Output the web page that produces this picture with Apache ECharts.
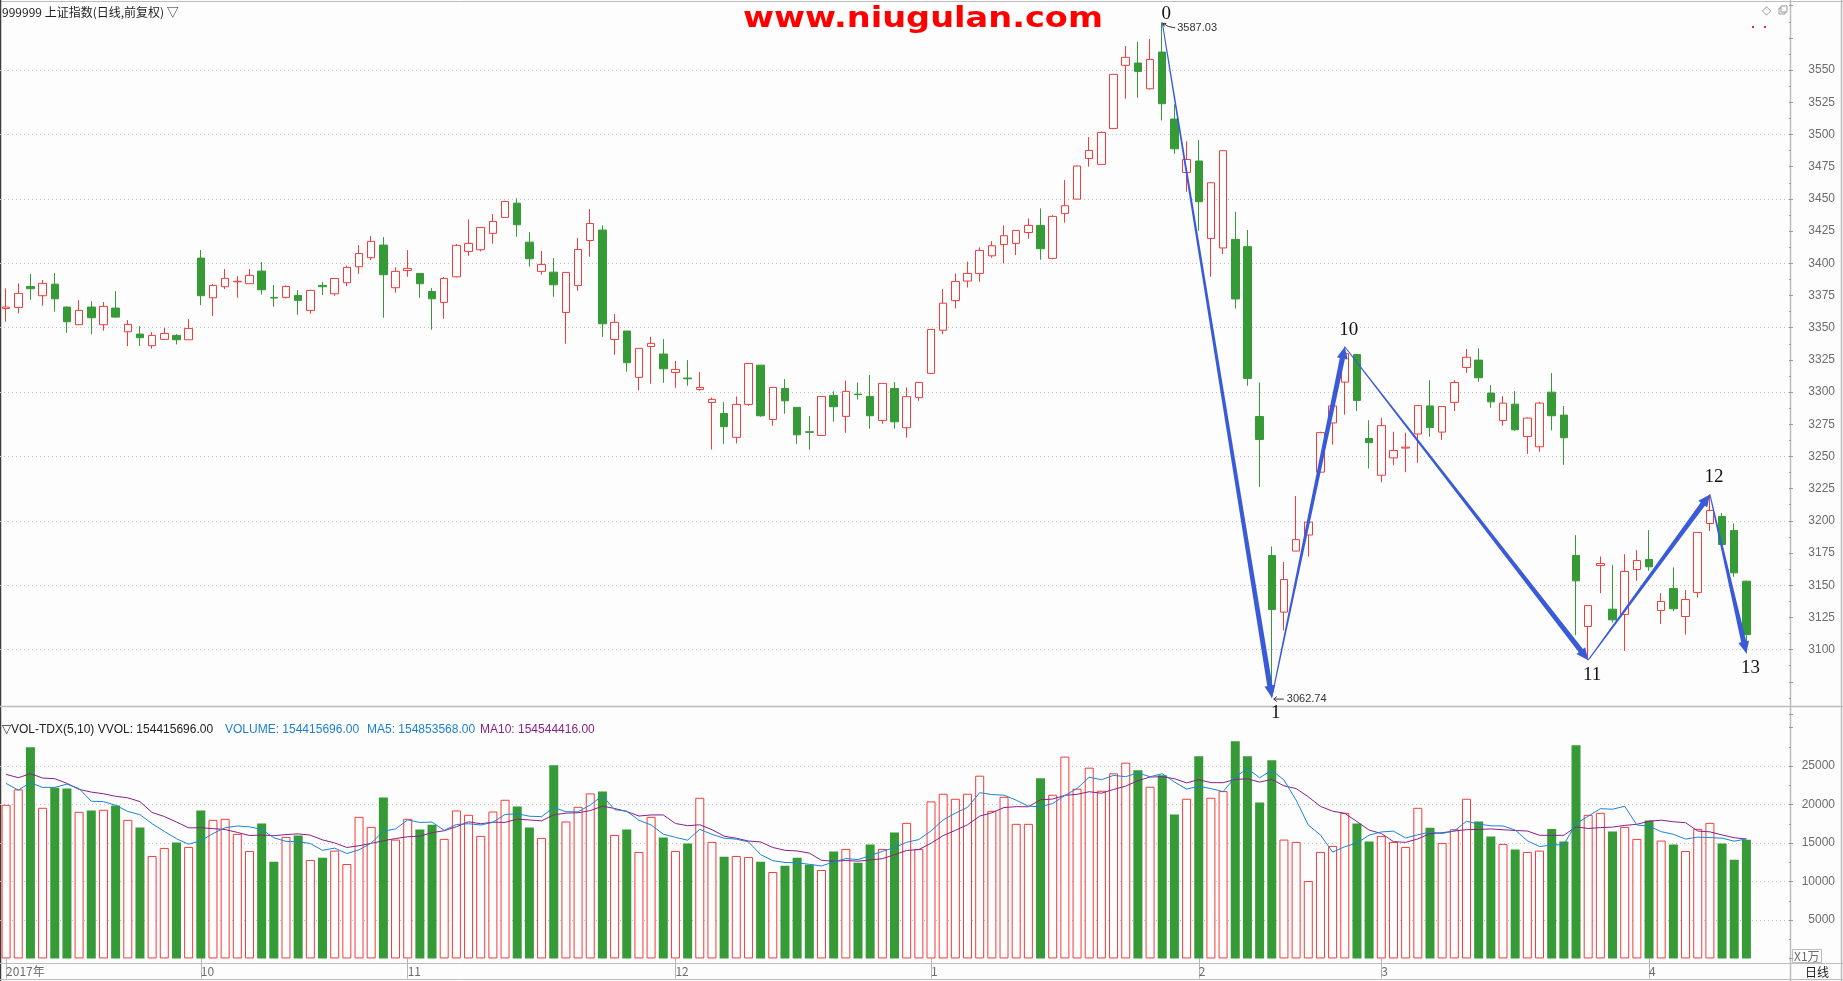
<!DOCTYPE html>
<html><head><meta charset="utf-8">
<script src="https://cdn.jsdelivr.net/npm/echarts@6/dist/echarts.min.js"></script>
<style>html,body{margin:0;padding:0;background:#fdfdfd;overflow:hidden}#c{width:1843px;height:981px}</style>
</head><body><div id="c"></div>
<script>
// ---------------- data ----------------
const dates = ('2017-09-08 2017-09-11 2017-09-12 2017-09-13 2017-09-14 2017-09-15 2017-09-18 2017-09-19 2017-09-20 2017-09-21 2017-09-22 2017-09-25 2017-09-26 2017-09-27 2017-09-28 2017-09-29 ' +
 '2017-10-09 2017-10-10 2017-10-11 2017-10-12 2017-10-13 2017-10-16 2017-10-17 2017-10-18 2017-10-19 2017-10-20 2017-10-23 2017-10-24 2017-10-25 2017-10-26 2017-10-27 2017-10-30 2017-10-31 ' +
 '2017-11-01 2017-11-02 2017-11-03 2017-11-06 2017-11-07 2017-11-08 2017-11-09 2017-11-10 2017-11-13 2017-11-14 2017-11-15 2017-11-16 2017-11-17 2017-11-20 2017-11-21 2017-11-22 2017-11-23 2017-11-24 2017-11-27 2017-11-28 2017-11-29 2017-11-30 ' +
 '2017-12-01 2017-12-04 2017-12-05 2017-12-06 2017-12-07 2017-12-08 2017-12-11 2017-12-12 2017-12-13 2017-12-14 2017-12-15 2017-12-18 2017-12-19 2017-12-20 2017-12-21 2017-12-22 2017-12-25 2017-12-26 2017-12-27 2017-12-28 2017-12-29 ' +
 '2018-01-02 2018-01-03 2018-01-04 2018-01-05 2018-01-08 2018-01-09 2018-01-10 2018-01-11 2018-01-12 2018-01-15 2018-01-16 2018-01-17 2018-01-18 2018-01-19 2018-01-22 2018-01-23 2018-01-24 2018-01-25 2018-01-26 2018-01-29 2018-01-30 2018-01-31 ' +
 '2018-02-01 2018-02-02 2018-02-05 2018-02-06 2018-02-07 2018-02-08 2018-02-09 2018-02-12 2018-02-13 2018-02-14 2018-02-22 2018-02-23 2018-02-26 2018-02-27 2018-02-28 ' +
 '2018-03-01 2018-03-02 2018-03-05 2018-03-06 2018-03-07 2018-03-08 2018-03-09 2018-03-12 2018-03-13 2018-03-14 2018-03-15 2018-03-16 2018-03-19 2018-03-20 2018-03-21 2018-03-22 2018-03-23 2018-03-26 2018-03-27 2018-03-28 2018-03-29 2018-03-30 ' +
 '2018-04-02 2018-04-03 2018-04-04 2018-04-09 2018-04-10 2018-04-11 2018-04-12 2018-04-13 2018-04-16').split(' ');

const opens = [3364.9,3365.7,3382.0,3374.8,3383.8,3366.0,3352.3,3366.0,3352.3,3365.2,
 3346.8,3345.0,3336.0,3340.9,3344.0,3340.6,3404.0,3373.2,3381.8,3385.6,
 3384.1,3393.9,3373.5,3373.5,3375.0,3363.4,3382.8,3376.3,3384.9,3397.3,
 3404.3,3414.1,3381.0,3394.4,3392.1,3378.1,3369.6,3389.5,3409.2,3410.5,
 3423.2,3435.6,3446.7,3416.4,3393.7,3393.1,3361.8,3382.8,3417.7,3425.8,
 3340.8,3347.4,3311.4,3335.4,3329.5,3315.2,3310.9,3302.0,3291.9,3283.4,
 3264.8,3290.4,3320.9,3278.7,3302.8,3288.1,3269.2,3266.3,3297.4,3281.1,
 3298.4,3296.6,3278.0,3302.8,3272.3,3295.8,3314.5,3348.0,3371.0,3386.2,
 3392.1,3405.8,3414.6,3415.4,3423.9,3429.4,3403.8,3438.7,3449.8,3481.4,
 3476.8,3504.7,3553.7,3555.5,3535.5,3564.0,3512.0,3470.5,3479.4,3419.3,
 3411.9,3418.6,3412.9,3281.0,3173.0,3129.1,3176.5,3189.0,3237.8,3276.0,
 3307.7,3329.1,3263.9,3235.4,3248.9,3256.5,3267.4,3289.2,3268.9,3292.0,
 3319.1,3324.8,3299.2,3277.9,3290.6,3265.5,3257.5,3299.9,3282.1,3173.1,
 3117.9,3165.3,3131.4,3127.3,3162.2,3170.0,3130.4,3147.5,3125.7,3144.4,
 3197.9,3203.4,3192.5,3153.1];
const highs = [3380.5,3384.4,3391.6,3387.0,3392.4,3366.5,3371.4,3370.6,3369.9,3378.4,
 3355.9,3351.2,3346.6,3349.7,3345.0,3356.7,3410.3,3383.8,3395.5,3390.0,
 3395.5,3400.9,3383.1,3382.8,3379.2,3379.4,3385.4,3388.5,3398.1,3414.1,
 3421.1,3420.3,3396.8,3410.2,3392.5,3380.7,3389.3,3414.9,3434.1,3428.0,
 3438.2,3448.5,3450.4,3424.2,3409.5,3404.0,3392.9,3419.6,3442.1,3429.4,
 3360.5,3347.4,3333.9,3343.0,3341.1,3324.1,3324.8,3315.5,3295.8,3292.2,
 3296.6,3322.2,3321.0,3303.6,3310.1,3288.1,3281.3,3296.6,3300.5,3309.0,
 3307.5,3313.2,3306.7,3307.7,3303.6,3307.5,3349.0,3380.0,3392.1,3401.2,
 3412.3,3417.2,3429.4,3425.5,3434.8,3442.6,3437.4,3464.6,3476.0,3498.0,
 3502.4,3547.0,3568.7,3571.8,3574.1,3587.03,3523.4,3494.6,3495.7,3463.0,
 3487.4,3440.0,3425.8,3307.4,3180.1,3168.0,3219.3,3203.6,3269.2,3289.2,
 3335.2,3329.5,3278.1,3279.9,3269.2,3268.5,3289.5,3309.2,3288.8,3309.2,
 3333.4,3333.9,3305.4,3296.8,3300.7,3280.3,3292.4,3314.7,3289.1,3188.9,
 3134.2,3172.3,3165.6,3174.1,3177.2,3192.8,3143.8,3163.8,3146.2,3191.0,
 3220.5,3206.0,3197.9,3153.6];
const lows = [3354.6,3361.1,3371.7,3367.0,3362.4,3346.0,3352.0,3345.0,3347.6,3357.7,
 3335.7,3335.7,3333.6,3340.9,3337.0,3340.6,3367.5,3359.0,3380.0,3373.2,
 3384.1,3375.6,3366.2,3372.7,3360.0,3360.8,3375.3,3374.8,3382.3,3391.8,
 3402.5,3357.7,3377.1,3389.5,3373.2,3348.4,3356.9,3389.0,3405.8,3409.2,
 3415.2,3435.6,3420.6,3397.3,3391.1,3374.0,3337.5,3378.6,3405.1,3342.9,
 3328.9,3315.8,3301.5,3306.4,3307.2,3303.3,3304.9,3301.0,3255.4,3259.8,
 3260.1,3289.4,3280.8,3273.8,3283.1,3259.8,3255.2,3266.0,3276.9,3268.4,
 3294.3,3271.5,3275.4,3271.5,3264.5,3293.2,3314.0,3345.0,3365.0,3381.2,
 3385.6,3404.3,3399.9,3406.4,3419.0,3402.7,3403.0,3431.5,3449.8,3475.0,
 3476.8,3504.5,3527.8,3528.5,3535.0,3510.9,3485.0,3455.5,3425.2,3389.5,
 3407.2,3364.8,3304.9,3226.4,3062.74,3114.8,3176.5,3172.2,3237.8,3259.2,
 3282.4,3285.3,3240.7,3230.0,3243.2,3237.8,3245.0,3265.3,3262.8,3285.3,
 3314.9,3308.0,3287.8,3273.8,3269.9,3252.0,3253.6,3270.2,3243.5,3111.2,
 3091.8,3143.8,3121.0,3099.0,3153.4,3161.2,3120.0,3129.9,3111.7,3140.5,
 3192.2,3178.0,3156.5,3097.0];
const closes = [3366.0,3376.6,3380.2,3384.4,3372.4,3354.6,3363.4,3357.7,3366.5,3358.2,
 3352.5,3342.2,3344.0,3345.5,3340.6,3349.4,3374.8,3382.8,3388.3,3386.0,
 3390.6,3379.4,3373.0,3382.0,3371.2,3378.9,3381.8,3388.2,3396.8,3407.6,
 3417.0,3391.1,3393.7,3396.0,3384.1,3372.4,3388.2,3413.9,3415.4,3427.8,
 3432.5,3448.0,3429.9,3403.5,3399.1,3383.3,3392.9,3410.7,3430.9,3353.0,
 3354.1,3322.8,3333.9,3337.8,3318.1,3317.6,3310.3,3303.6,3294.3,3273.1,
 3290.4,3322.2,3281.6,3303.6,3293.2,3266.8,3268.7,3296.6,3288.6,3300.5,
 3298.0,3281.6,3306.7,3276.9,3296.4,3307.5,3348.6,3369.0,3385.9,3392.1,
 3410.0,3413.6,3421.4,3425.5,3429.4,3411.3,3436.4,3444.7,3475.5,3487.6,
 3501.6,3546.7,3559.9,3549.0,3558.3,3523.9,3488.9,3480.6,3447.8,3462.5,
 3487.4,3372.3,3310.6,3263.2,3131.2,3154.4,3185.4,3199.0,3268.5,3289.2,
 3329.8,3293.5,3260.7,3273.9,3254.6,3257.2,3289.5,3272.4,3288.8,3307.4,
 3327.0,3311.1,3292.4,3291.4,3270.7,3279.8,3291.4,3281.6,3264.5,3153.4,
 3134.2,3166.9,3123.1,3160.7,3169.2,3164.3,3137.4,3131.7,3138.9,3191.0,
 3208.0,3181.6,3159.6,3111.7];
// volume, unit: 1万
const volumes = [19977,21977,27455,19586,22194,22107,19064,19238,19325,19890,
 18020,17020,13324,14368,15064,14498,19238,18020,18151,16194,
 13977,17542,12585,15803,15977,12803,13107,14020,12281,18412,
 17107,20933,15455,18151,16759,17368,15542,19238,18673,15933,
 19107,20629,19760,17020,15672,25108,17803,19716,21455,21716,
 16064,16759,13846,18412,15716,13977,14933,20890,15151,13238,
 13324,13194,12585,11237,12063,13107,12194,11498,13890,14238,
 12455,14803,14238,16368,17629,14238,20412,21412,20760,21412,
 23760,19194,21020,17499,17499,23412,21281,26238,22064,24803,
 21803,24064,25455,24455,22325,23803,18716,20760,26282,20890,
 21760,28238,26282,20281,25760,15455,15151,10064,13846,14629,
 18934,17542,15194,15933,15151,14498,19586,16977,15020,16803,
 20760,17803,15846,14890,14151,13846,14020,16846,15194,27716,
 18673,18934,16499,17107,15542,17933,15325,14803,13977,16846,
 17629,14933,12846,15441.57];
// moving-average values before enough bars exist in the window
const ma5Head = [22760,21890,22847,22238];
const ma10Head = [23934,23499,24021,23455,23368,22760,21977,21629,21412];
// zigzag wave points (bar index, 'H' = high, 'L' = low) and their labels
const zigIdx = [95,104,110,130,140,143];
const zigType = ['H','L','H','L','H','L'];
const zigLabels = ['0','1','10','11','12','13'];
const tagIdx = [95,104]; // extreme price tags
// texts
const titleText = '999999 上证指数(日线,前复权) ▽';
const siteText = 'www.niugulan.com';
const volHead1 = '▽VOL-TDX(5,10) VVOL: 154415696.00';
const volHead2 = 'VOLUME: 154415696.00';
const volHead3 = 'MA5: 154853568.00';
const volHead4 = 'MA10: 154544416.00';
const unitText = 'X1万';
const periodText = '日线';

// ---------------- derived ----------------
const BG = '#fdfdfd', RED = '#f23c3c', GREEN = '#369a37', GRIDC = '#c2c2c2', TXT = '#6c6c6c', FRAME = '#bdbdbd';
const LATIN = '"Liberation Sans", Arial, sans-serif';
const CJK = '"Noto Sans CJK SC", "Liberation Sans", sans-serif';
const N = dates.length;
const isUp = closes.map((c, i) => c >= opens[i]);
const candleData = opens.map((o, i) => [o, closes[i], lows[i], highs[i]]);
const volData = volumes.map((v, i) => ({
  value: v,
  itemStyle: isUp[i] ? {color: BG, borderColor: RED, borderWidth: 1} : {color: GREEN, borderColor: GREEN, borderWidth: 0}
}));
function ma(n, head) {
  return volumes.map((v, i) => {
    if (i < n - 1) return head[i];
    let s = 0; for (let k = i - n + 1; k <= i; k++) s += volumes[k];
    return +(s / n).toFixed(1);
  });
}
const ma5 = ma(5, ma5Head), ma10 = ma(10, ma10Head);
const monthStart = dates.map((d, i) => i === 0 || d.slice(5, 7) !== dates[i - 1].slice(5, 7));
const zigPts = zigIdx.map((k, j) => [k, zigType[j] === 'H' ? highs[k] : lows[k]]);
const zigSegs = zigPts.slice(1).map((p, j) => [zigPts[j][0], zigPts[j][1], p[0], p[1]]);

const GRID_W = 1789;
const priceTop = 5.71, priceH = 708.28;      // 3600 .. 3050
const pgTop = 70.1, pgH = 579.5;             // 3550 .. 3100 gridlines
const volTop = 727.7, volH = 230.75;         // 30000 .. 0
const vgTop = 766.2, vgH = 153.8;            // 25000 .. 5000 gridlines

const hiddenX = (gi) => ({type: 'value', gridIndex: gi, min: 0, max: 1, show: false});
const gridY = (gi, min, max, itv) => ({
  type: 'value', gridIndex: gi, min, max, interval: itv, position: 'right',
  axisLine: {show: false}, axisTick: {show: false}, axisLabel: {show: false},
  splitLine: {show: true, lineStyle: {color: GRIDC, width: 1, type: [1, 3]}}
});
const labelY = (gi, min, max, itv, lo, hi) => ({
  type: 'value', gridIndex: gi, min, max, interval: itv, position: 'right',
  axisLine: {show: false},
  axisTick: {show: true, length: 4, lineStyle: {color: '#9a9a9a'}},
  minorTick: {show: true, splitNumber: 2, length: 2, lineStyle: {color: '#9a9a9a'}},
  splitLine: {show: false},
  axisLabel: {show: true, margin: 46, align: 'right', color: TXT, fontSize: 12, fontFamily: LATIN,
    formatter: (v) => (v >= lo && v <= hi) ? String(v) : ''}
});

const option = {
  backgroundColor: BG,
  animation: false,
  grid: [
    {left: 0, top: priceTop, width: GRID_W, height: priceH, outerBoundsMode: 'none'},
    {left: 0, top: pgTop, width: GRID_W, height: pgH, outerBoundsMode: 'none'},
    {left: 0, top: volTop, width: GRID_W, height: volH, outerBoundsMode: 'none'},
    {left: 0, top: vgTop, width: GRID_W, height: vgH, outerBoundsMode: 'none'}
  ],
  xAxis: [
    {type: 'category', gridIndex: 0, data: dates, max: N + 2, boundaryGap: true, show: false},
    hiddenX(1),
    {type: 'category', gridIndex: 2, data: dates, max: N + 2, boundaryGap: true,
      axisLine: {show: false},
      axisTick: {show: true, interval: (i) => !!monthStart[i], alignWithLabel: true, length: 20, lineStyle: {color: '#b4b4b4'}},
      splitLine: {show: false},
      axisLabel: {show: true, interval: (i) => !!monthStart[i], align: 'left', margin: 7, hideOverlap: false,
        color: TXT, fontSize: 12, fontFamily: CJK,
        formatter: (v, i) => i === 0 ? v.slice(0, 4) + '年' : String(+v.slice(5, 7))}},
    hiddenX(3)
  ],
  yAxis: [
    labelY(0, 3050, 3600, 25, 3100, 3550),
    gridY(1, 3100, 3550, 50),
    labelY(2, 0, 30000, 5000, 5000, 25000),
    gridY(3, 5000, 25000, 5000)
  ],
  series: [
    {type: 'candlestick', xAxisIndex: 0, yAxisIndex: 0, data: candleData, barWidth: 8,
      itemStyle: {color: BG, color0: GREEN, borderColor: RED, borderColor0: GREEN, borderWidth: 1}},
    {type: 'bar', xAxisIndex: 2, yAxisIndex: 2, data: volData, barWidth: 9},
    {type: 'line', xAxisIndex: 2, yAxisIndex: 2, data: ma5, symbol: 'none', lineStyle: {color: '#1a84d8', width: 1}, z: 5},
    {type: 'line', xAxisIndex: 2, yAxisIndex: 2, data: ma10, symbol: 'none', lineStyle: {color: '#8a1f8a', width: 1}, z: 4},
    {type: 'custom', xAxisIndex: 0, yAxisIndex: 0, clip: false, silent: true, z: 10,
      data: zigSegs, encode: {x: [0, 2], y: [1, 3]},
      renderItem: (params, api) => {
        const a = api.coord([api.value(0), api.value(1)]);
        const b = api.coord([api.value(2), api.value(3)]);
        const dx = b[0] - a[0], dy = b[1] - a[1], len = Math.hypot(dx, dy);
        const ux = dx / len, uy = dy / len, nx = -uy, ny = ux;
        const L = 12, W = 5.5, w0 = 0.5, w1 = 2.6;
        const s = [b[0] - ux * L, b[1] - uy * L];
        const pts = [
          [a[0] + nx * w0, a[1] + ny * w0], [s[0] + nx * w1, s[1] + ny * w1], [s[0] + nx * W, s[1] + ny * W], b,
          [s[0] - nx * W, s[1] - ny * W], [s[0] - nx * w1, s[1] - ny * w1], [a[0] - nx * w0, a[1] - ny * w0]
        ];
        return {type: 'polygon', shape: {points: pts}, style: {fill: '#3a5bd8'}};
      }},
    {type: 'custom', xAxisIndex: 0, yAxisIndex: 0, clip: false, silent: true, z: 11,
      data: zigPts, encode: {x: 0, y: 1},
      renderItem: (params, api) => {
        const p = api.coord([api.value(0), api.value(1)]);
        const up = zigType[params.dataIndex] === 'H';
        let y = up ? p[1] - 17 : p[1] + 15;
        if (y < 14) y = 14;
        return {type: 'text', x: p[0] + 4, y: y,
          style: {text: zigLabels[params.dataIndex], fill: '#111', font: '19px "Liberation Serif", serif', align: 'center', verticalAlign: 'middle'}};
      }},
    {type: 'custom', xAxisIndex: 0, yAxisIndex: 0, clip: false, silent: true, z: 11,
      data: tagIdx.map((k, j) => [k, j === 0 ? highs[k] : lows[k]]), encode: {x: 0, y: 1},
      renderItem: (params, api) => {
        const p = api.coord([api.value(0), api.value(1)]);
        const hi = params.dataIndex === 0;
        const ly = hi ? p[1] + 5.5 : p[1] + 1.5;
        return {type: 'group', children: [
          {type: 'polyline', shape: {points: hi ? [[p[0] + 1, p[1] + 1], [p[0] + 6, p[1] + 4], [p[0] + 13, ly]] : [[p[0] + 2, ly], [p[0] + 12, ly]]},
            style: {stroke: '#333', lineWidth: 1, fill: null}},
          {type: 'polyline', shape: {points: hi ? [[p[0] + 4, p[1] + 1], [p[0] + 1, p[1] + 1], [p[0] + 2, p[1] + 4]] : [[p[0] + 5, ly - 2.5], [p[0] + 2, ly], [p[0] + 5, ly + 2.5]]},
            style: {stroke: '#333', lineWidth: 1, fill: null}},
          {type: 'text', x: p[0] + 15, y: ly, style: {text: String(api.value(1)), fill: '#333', font: '11px ' + LATIN, verticalAlign: 'middle'}}
        ]};
      }}
  ],
  graphic: [
    // frame
    {type: 'line', shape: {x1: 0, y1: 1.5, x2: 1843, y2: 1.5}, style: {stroke: FRAME, lineWidth: 1}},
    {type: 'line', shape: {x1: 0.5, y1: 0, x2: 0.5, y2: 981}, style: {stroke: '#3c3c3c', lineWidth: 1.5}},
    {type: 'line', shape: {x1: 1790.5, y1: 0, x2: 1790.5, y2: 981}, style: {stroke: FRAME, lineWidth: 1.5}},
    {type: 'line', shape: {x1: 1841.5, y1: 0, x2: 1841.5, y2: 981}, style: {stroke: FRAME, lineWidth: 1.5}},
    {type: 'line', shape: {x1: 0, y1: 706.5, x2: 1843, y2: 706.5}, style: {stroke: FRAME, lineWidth: 1.5}},
    {type: 'line', shape: {x1: 0, y1: 963.5, x2: 1843, y2: 963.5}, style: {stroke: FRAME, lineWidth: 1}},
    {type: 'line', shape: {x1: 0, y1: 979.5, x2: 1843, y2: 979.5}, style: {stroke: FRAME, lineWidth: 1}},
    // texts
    {type: 'text', x: 2, y: 12, style: {text: titleText, font: '12px ' + CJK, fill: '#1e1e1e', verticalAlign: 'middle'}},
    {type: 'text', x: 743, y: 20, scaleX: 1.2, style: {text: siteText, font: 'bold 28px "DejaVu Sans", sans-serif', fill: '#ff0000', verticalAlign: 'middle'}},
    {type: 'text', x: 2, y: 730, style: {text: volHead1, font: '12px ' + LATIN, fill: '#222', verticalAlign: 'middle'}},
    {type: 'text', x: 225, y: 730, style: {text: volHead2, font: '12px ' + LATIN, fill: '#1a7fd2', verticalAlign: 'middle'}},
    {type: 'text', x: 367, y: 730, style: {text: volHead3, font: '12px ' + LATIN, fill: '#1a7fd2', verticalAlign: 'middle'}},
    {type: 'text', x: 480, y: 730, style: {text: volHead4, font: '12px ' + LATIN, fill: '#8a1f8a', verticalAlign: 'middle'}},
    {type: 'text', x: 1762, y: 11, style: {text: '◇', font: '12px "DejaVu Sans", sans-serif', fill: '#999', verticalAlign: 'middle'}},
    {type: 'rect', shape: {x: 1779, y: 8, width: 6, height: 6}, style: {stroke: '#999', fill: null, lineWidth: 1}},
    {type: 'rect', shape: {x: 1781, y: 6, width: 6, height: 6}, style: {stroke: '#999', fill: BG, lineWidth: 1}},
    {type: 'rect', shape: {x: 1752, y: 26, width: 2, height: 2}, style: {fill: '#e03030'}},
    {type: 'rect', shape: {x: 1764, y: 26, width: 2, height: 2}, style: {fill: '#e03030'}},
    {type: 'rect', shape: {x: 1792.5, y: 949.5, width: 29, height: 13}, style: {stroke: FRAME, fill: BG, lineWidth: 1}},
    {type: 'text', x: 1794, y: 956, style: {text: unitText, font: '12px ' + CJK, fill: TXT, verticalAlign: 'middle'}},
    {type: 'text', x: 1817, y: 972, style: {text: periodText, font: '12px ' + CJK, fill: '#222', align: 'center', verticalAlign: 'middle'}}
  ]
};
const chart = echarts.init(document.getElementById('c'), null, {width: 1843, height: 981});
chart.setOption(option);
</script>
</body></html>
